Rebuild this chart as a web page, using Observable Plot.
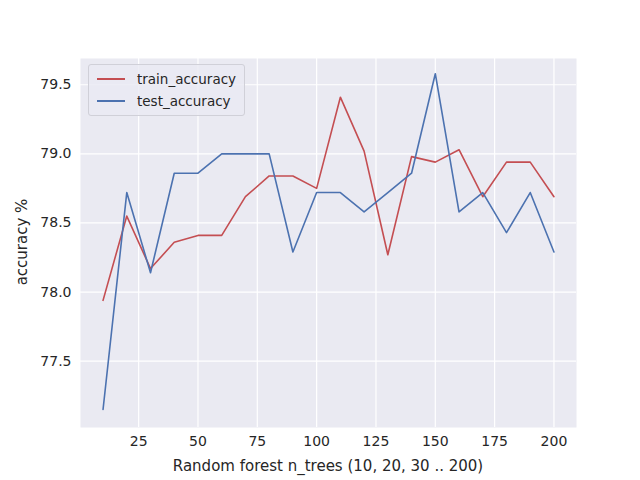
<!DOCTYPE html>
<html><head><meta charset="utf-8">
<script src="https://cdn.jsdelivr.net/npm/d3@7"></script>
<script src="https://cdn.jsdelivr.net/npm/@observablehq/plot@0.6"></script>
<style>
body{margin:0;background:#fff;font-family:"DejaVu Sans",sans-serif}
#wrap{position:relative;width:640px;height:480px}
#legend{position:absolute;left:88px;top:64px;background:rgba(234,234,242,0.8);border:1px solid #d0d0d8;border-radius:3px;padding:3px 8px;font-size:13.5px;color:#262626}
#legend div{display:flex;align-items:center;height:22px}
#legend span{display:inline-block;width:28px;height:0;border-top:2px solid;margin-right:12px}
#xl{position:absolute;left:80px;width:496px;top:457px;text-align:center;font-size:15px;color:#262626}
#yl{position:absolute;left:22px;top:242px;transform:translate(-50%,-50%) rotate(-90deg);font-size:15px;color:#262626;white-space:nowrap}
</style></head><body>
<div id="wrap"><div id="chart"></div>
<div id="legend"><div><span style="border-color:#c44e52"></span>train_accuracy</div><div><span style="border-color:#4c72b0"></span>test_accuracy</div></div>
<div id="xl">Random forest n_trees (10, 20, 30 .. 200)</div>
<div id="yl">accuracy %</div></div>
<script>
const nTrees = [10,20,30,40,50,60,70,80,90,100,110,120,130,140,150,160,170,180,190,200];
const trainAcc = [77.94,78.55,78.17,78.36,78.41,78.41,78.69,78.84,78.84,78.75,79.41,79.02,78.27,78.98,78.94,79.03,78.69,78.94,78.94,78.69];
const testAcc = [77.15,78.72,78.14,78.86,78.86,79.0,79.0,79.0,78.29,78.72,78.72,78.58,78.72,78.86,79.58,78.58,78.72,78.43,78.72,78.29];
const xTicks = [25,50,75,100,125,150,175,200];
const yTicks = [77.5,78.0,78.5,79.0,79.5];
const train = nTrees.map((x,i)=>({x,y:trainAcc[i]}));
const test = nTrees.map((x,i)=>({x,y:testAcc[i]}));
const chart = Plot.plot({
  width:640,height:480,marginLeft:80,marginRight:64,marginTop:58,marginBottom:53,
  style:{fontSize:"14px",fontFamily:"DejaVu Sans, sans-serif",color:"#262626",background:"white"},
  x:{domain:[0.5,209.5],ticks:xTicks,tickSize:0,tickPadding:9,label:null},
  y:{domain:[77.02,79.69],ticks:yTicks,tickSize:0,tickPadding:9,tickFormat:d3.format(".1f"),label:null},
  marks:[
    Plot.frame({fill:"#eaeaf2",stroke:null}),
    Plot.gridX(xTicks,{stroke:"white",strokeOpacity:1,strokeWidth:1.2}),
    Plot.gridY(yTicks,{stroke:"white",strokeOpacity:1,strokeWidth:1.2}),
    Plot.line(train,{x:"x",y:"y",stroke:"#c44e52",strokeWidth:1.6}),
    Plot.line(test,{x:"x",y:"y",stroke:"#4c72b0",strokeWidth:1.6})
  ]
});
document.getElementById("chart").appendChild(chart);
</script></body></html>
